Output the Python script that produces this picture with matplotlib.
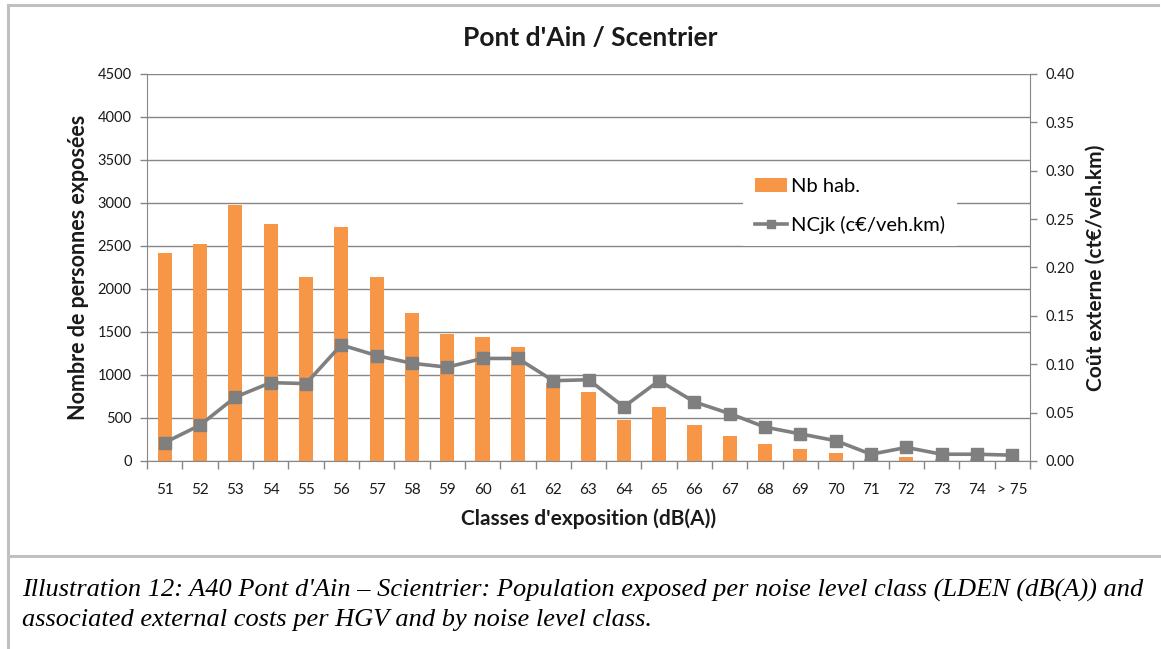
import matplotlib
matplotlib.use("Agg")
import matplotlib.pyplot as plt
from matplotlib.lines import Line2D
from matplotlib.patches import Patch
import numpy as np

plt.rcParams['font.family'] = ['Lato', 'DejaVu Sans']

categories = ["51", "52", "53", "54", "55", "56", "57", "58", "59", "60",
              "61", "62", "63", "64", "65", "66", "67", "68", "69", "70",
              "71", "72", "73", "74", "> 75"]
nb_hab = [2420, 2520, 2980, 2750, 2140, 2720, 2140, 1720, 1480, 1440,
          1320, 910, 800, 480, 630, 420, 290, 195, 135, 90,
          20, 45, 20, 20, 10]
ncjk = [0.019, 0.037, 0.066, 0.081, 0.080, 0.120, 0.109, 0.101, 0.097, 0.106,
        0.106, 0.083, 0.084, 0.056, 0.083, 0.061, 0.049, 0.035, 0.028, 0.021,
        0.007, 0.014, 0.007, 0.007, 0.006]

left_ticks = list(range(0, 4501, 500))
right_ticks = [0.00, 0.05, 0.10, 0.15, 0.20, 0.25, 0.30, 0.35, 0.40]

BAR = "#F79646"
LINE = "#7F7F7F"
AX = "#868686"
TXT = "#1a1a1a"

W, H = 1161, 649
fig = plt.figure(figsize=(W / 100, H / 100), dpi=100)

# outer frame lines
frame_c = "#c0c0c0"
fig.add_artist(Line2D([8 / W, 1158 / W], [1 - 5 / H, 1 - 5 / H], color=frame_c, lw=2.2))
fig.add_artist(Line2D([8 / W, 8 / W], [0, 1 - 5 / H], color=frame_c, lw=2.2))
fig.add_artist(Line2D([8 / W, 1161 / W], [1 - 556 / H, 1 - 556 / H], color=frame_c, lw=2.2))

x0, x1, yb, yt = 147, 1030, 461, 74
ax = fig.add_axes([x0 / W, 1 - yb / H, (x1 - x0) / W, (yb - yt) / H])
x = np.arange(len(categories))
ax.bar(x, nb_hab, width=0.4, color=BAR, zorder=2)
ax.set_xlim(-0.5, len(categories) - 0.5)
ax.set_ylim(0, 4500)
ax.set_yticks(left_ticks)
ax.set_yticklabels([str(v) for v in left_ticks], fontsize=10.5, color=TXT)
ax.yaxis.grid(True, color=AX, lw=1.0, zorder=0)
ax.set_axisbelow(True)
ax.set_xticks(x)
ax.set_xticklabels(categories, fontsize=11, color=TXT)
ax.tick_params(axis='x', which='major', length=0, pad=16)
ax.set_xticks(np.arange(-0.5, len(categories), 1.0), minor=True)
ax.tick_params(axis='x', which='minor', length=6, color=AX, width=1)
ax.tick_params(axis='y', length=5, color=AX, width=1, pad=6)
for s in ['top', 'right']:
    ax.spines[s].set_visible(False)
ax.spines['left'].set_color(AX)
ax.spines['bottom'].set_color(AX)
ax.set_ylabel("Nombre de personnes exposées", fontsize=15.5, fontweight='bold', color=TXT, labelpad=6)
ax.set_xlabel("Classes d'exposition (dB(A))", fontsize=15, fontweight='bold', color=TXT, labelpad=8)

ax2 = ax.twinx()
ax2.plot(x, ncjk, color=LINE, lw=2.6, marker='s', markersize=8, zorder=3)
ax2.set_ylim(0, 0.40)
ax2.set_yticks(right_ticks)
ax2.set_yticklabels([f"{v:.2f}" for v in right_ticks], fontsize=10.5, color=TXT)
ax2.tick_params(axis='y', length=5, color=AX, width=1, pad=6)
for s in ['top', 'left', 'bottom']:
    ax2.spines[s].set_visible(False)
ax2.spines['right'].set_color(AX)
ax2.set_ylabel("Coût externe (ct€/veh.km)", fontsize=15, fontweight='bold', color=TXT, labelpad=8)

handles = [Patch(facecolor=BAR, edgecolor='none'),
           Line2D([0], [0], color=LINE, lw=2.6, marker='s', markersize=6)]
leg = ax2.legend(handles, ["Nb hab.", "NCjk (c€/veh.km)"], loc='upper left',
                 bbox_to_anchor=((743 - x0) / (x1 - x0), (yb - 166) / (yb - yt)),
                 frameon=True, fancybox=False, framealpha=1, edgecolor='none',
                 facecolor='white', fontsize=14.5, handlelength=1.6, handletextpad=0.2,
                 labelspacing=1.05, borderpad=0.6, borderaxespad=0)
leg.set_zorder(5)

fig.text(590 / W, 1 - 38 / H, "Pont d'Ain / Scentrier", ha='center', va='center',
         fontsize=19, fontweight='bold', color=TXT)

cap_font = dict(family='Liberation Serif', style='italic', fontsize=19, color='black')
fig.text(22 / W, 1 - 590 / H,
         "Illustration 12: A40 Pont d'Ain – Scientrier: Population exposed per noise level class (LDEN (dB(A)) and",
         ha='left', va='center', **cap_font)
fig.text(22 / W, 1 - 620 / H,
         "associated external costs per HGV and by noise level class.",
         ha='left', va='center', **cap_font)

fig.savefig("out.png", dpi=100)
